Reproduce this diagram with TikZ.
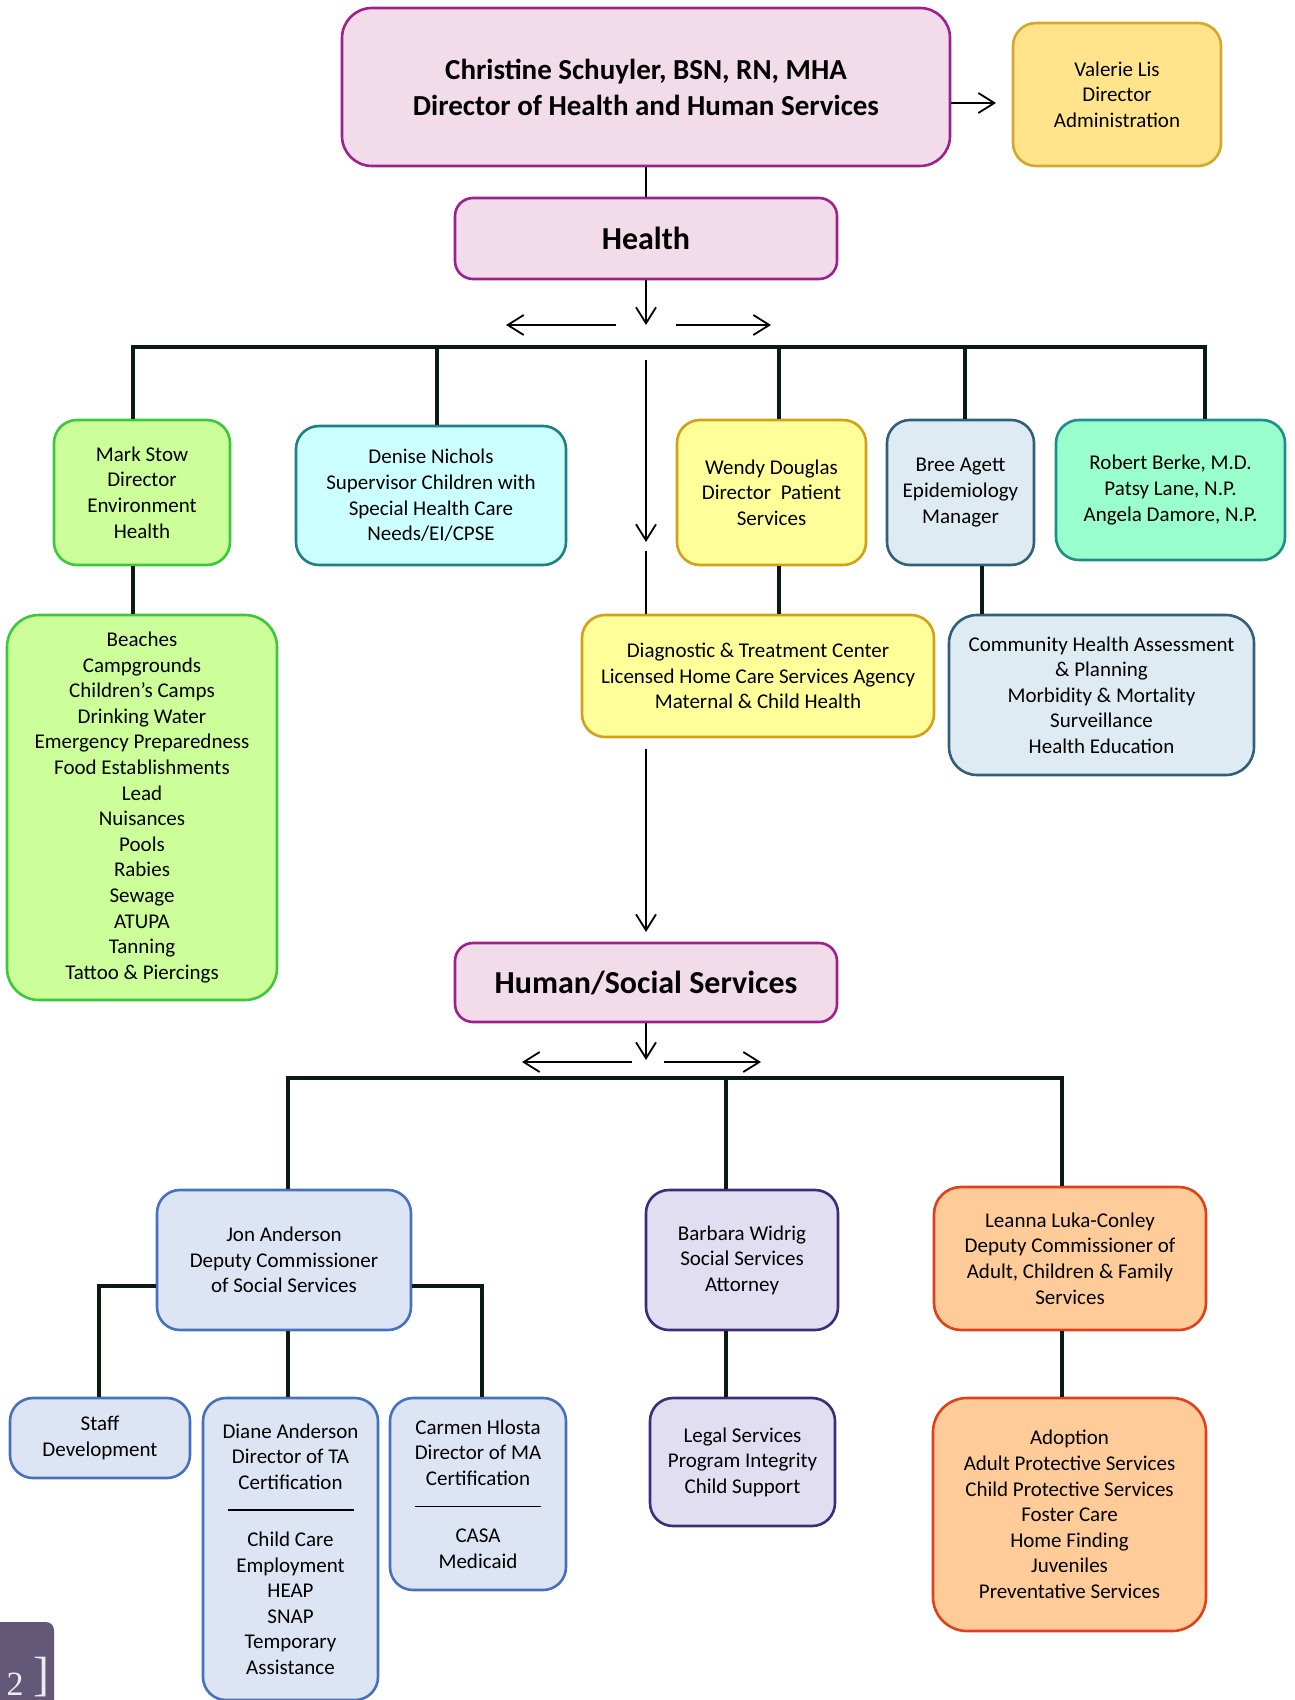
\documentclass[tikz,border=0pt]{standalone}
\usepackage{fontspec}
\setmainfont{Carlito}
\newfontfamily\tabfont{Liberation Serif}
\usetikzlibrary{arrows.meta}

\definecolor{pinkFill}{RGB}{242,220,233}
\definecolor{pinkLine}{RGB}{158,32,142}
\definecolor{goldFill}{RGB}{255,228,140}
\definecolor{goldLine}{RGB}{212,168,42}
\definecolor{limeFill}{RGB}{204,255,153}
\definecolor{limeLine}{RGB}{60,200,60}
\definecolor{aquaFill}{RGB}{204,255,255}
\definecolor{aquaLine}{RGB}{30,128,128}
\definecolor{lemonFill}{RGB}{255,255,153}
\definecolor{lemonLine}{RGB}{212,160,23}
\definecolor{mistFill}{RGB}{222,235,242}
\definecolor{mistLine}{RGB}{49,96,122}
\definecolor{mintFill}{RGB}{153,255,204}
\definecolor{mintLine}{RGB}{26,144,136}
\definecolor{steelFill}{RGB}{221,229,244}
\definecolor{steelLine}{RGB}{70,112,192}
\definecolor{lilacFill}{RGB}{226,222,242}
\definecolor{lilacLine}{RGB}{61,44,122}
\definecolor{peachFill}{RGB}{255,204,153}
\definecolor{peachLine}{RGB}{224,64,26}
\definecolor{tabFill}{RGB}{100,88,120}
\definecolor{linkCol}{RGB}{10,28,18}

\begin{document}
\begin{tikzpicture}[x=0.5pt, y=-0.5pt,
    box/.style={draw, line width=1.3pt, rounded corners=11.5pt, align=center,
      inner sep=0pt, font=\fontsize{10.5}{12.8}\selectfont},
    head/.style={box, rounded corners=9pt, font=\fontsize{16}{19}\selectfont\bfseries},
    hhs/.style={fill=pinkFill, draw=pinkLine},
    admin/.style={fill=goldFill, draw=goldLine},
    lime/.style={fill=limeFill, draw=limeLine},
    aqua/.style={fill=aquaFill, draw=aquaLine},
    lemon/.style={fill=lemonFill, draw=lemonLine},
    mist/.style={fill=mistFill, draw=mistLine},
    mint/.style={fill=mintFill, draw=mintLine},
    steel/.style={fill=steelFill, draw=steelLine},
    lilac/.style={fill=lilacFill, draw=lilacLine},
    peach/.style={fill=peachFill, draw=peachLine},
    link/.style={draw=linkCol, line width=1.8pt},
    plain/.style={line width=0.9pt},
    pointer/.style={plain, -{Straight Barb[length=8pt,width=10pt]}}]
  \def\Xmid{646};
  \def\Ybar{347};
  \def\Ylow{1078};

  \useasboundingbox (0,0) rectangle (1294,1700);
  \clip (0,0) rectangle (1294,1700);

  % top
  \node[box, hhs, rounded corners=15pt, minimum width=304pt, minimum height=79pt,
    font=\fontsize{14.5}{18}\selectfont\bfseries] (chris) at (\Xmid,87)
    {Christine Schuyler, BSN, RN, MHA\\Director of Health and Human Services};
  \node[box, admin, minimum width=104pt, minimum height=71.5pt] (valerie) at (1117,94.5)
    {Valerie Lis\\Director\\Administration};
  \node[head, hhs, minimum width=191pt, minimum height=40.5pt] (health) at (\Xmid,238.5) {Health};

  % health units
  \node[box, lime, minimum width=88pt, minimum height=72.5pt] (mark) at (142,492.5)
    {Mark Stow\\Director\\Environment\\Health};
  \node[box, aqua, minimum width=135pt, minimum height=69.5pt] (denise) at (431,495.5)
    {Denise Nichols\\Supervisor Children with\\Special Health Care\\Needs/EI/CPSE};
  \node[box, lemon, minimum width=94.5pt, minimum height=72.5pt] (wendy) at (771.5,492.5)
    {Wendy Douglas\\Director\ \ Patient\\Services};
  \node[box, mist, minimum width=73.5pt, minimum height=72.5pt] (bree) at (960.5,492.5)
    {Bree Agett\\Epidemiology\\Manager};
  \node[box, mint, minimum width=114.5pt, minimum height=70pt] (robert) at (1170.5,490)
    {Robert Berke, M.D.\\Patsy Lane, N.P.\\Angela Damore, N.P.};
  \node[box, lime, rounded corners=16pt, minimum width=135pt, minimum height=192.5pt] (beaches) at (142,807.5)
    {Beaches\\Campgrounds\\Children’s Camps\\Drinking Water\\Emergency Preparedness\\Food Establishments\\Lead\\Nuisances\\Pools\\Rabies\\Sewage\\ATUPA\\Tanning\\Tattoo \& Piercings};
  \node[box, lemon, minimum width=176pt, minimum height=61pt] (diag) at (758,676)
    {Diagnostic \& Treatment Center\\Licensed Home Care Services Agency\\Maternal \& Child Health};
  \node[box, mist, rounded corners=14pt, minimum width=152.5pt, minimum height=80pt] (community) at (1101.5,695)
    {Community Health Assessment\\\& Planning\\Morbidity \& Mortality\\Surveillance\\Health Education};

  % human services
  \node[head, hhs, minimum width=191pt, minimum height=39.5pt] (human) at (\Xmid,982.5) {Human/Social Services};
  \node[box, steel, minimum width=127pt, minimum height=70pt] (jon) at (284,1260)
    {Jon Anderson\\Deputy Commissioner\\of Social Services};
  \node[box, lilac, minimum width=96pt, minimum height=70pt] (barbara) at (742,1260)
    {Barbara Widrig\\Social Services\\Attorney};
  \node[box, peach, rounded corners=13.5pt, minimum width=136pt, minimum height=71.5pt] (leanna) at (1070,1258.5)
    {Leanna Luka-Conley\\Deputy Commissioner of\\Adult, Children \& Family\\Services};
  \node[box, steel, minimum width=90pt, minimum height=40pt] (staff) at (100,1438)
    {Staff\\Development};
  \node[box, steel, minimum width=87.5pt, minimum height=151pt] (diane) at (290.5,1549)
    {Diane Anderson\\Director of TA\\Certification\\[-2pt]\rule{63pt}{0.7pt}\\[5pt]Child Care\\Employment\\HEAP\\SNAP\\Temporary\\Assistance};
  \node[box, steel, minimum width=88pt, minimum height=96pt] (carmen) at (478,1494)
    {Carmen Hlosta\\Director of MA\\Certification\\[-2pt]\rule{63pt}{0.7pt}\\[5pt]CASA\\Medicaid};
  \node[box, lilac, minimum width=92.5pt, minimum height=64pt] (legal) at (742.5,1462)
    {Legal Services\\Program Integrity\\Child Support};
  \node[box, peach, rounded corners=17pt, minimum width=136.5pt, minimum height=116.5pt] (adoption) at (1069.5,1514.5)
    {Adoption\\Adult Protective Services\\Child Protective Services\\Foster Care\\Home Finding\\Juveniles\\Preventative Services};

  % points
  \coordinate (vtip) at (996,103);
  \coordinate (hdown) at (\Xmid,325);
  \coordinate (hl0) at (616,325);
  \coordinate (hl1) at (506,325);
  \coordinate (hr0) at (676,325);
  \coordinate (hr1) at (771,325);
  \coordinate (tmark) at (133,\Ybar);
  \coordinate (tdenise) at (437,\Ybar);
  \coordinate (twendy) at (779,\Ybar);
  \coordinate (tbree) at (965,\Ybar);
  \coordinate (trobert) at (1205,\Ybar);
  \coordinate (tcomm) at (982,600);
  \coordinate (m1) at (\Xmid,360);
  \coordinate (m2) at (\Xmid,542);
  \coordinate (m3) at (\Xmid,551);
  \coordinate (m4) at (\Xmid,748);
  \coordinate (m5) at (\Xmid,932);
  \coordinate (sdown) at (\Xmid,1060);
  \coordinate (sl0) at (632,1062);
  \coordinate (sl1) at (522,1062);
  \coordinate (sr0) at (664,1062);
  \coordinate (sr1) at (761,1062);
  \coordinate (tjon) at (288,\Ylow);
  \coordinate (tbarbara) at (726,\Ylow);
  \coordinate (tleanna) at (1062,\Ylow);
  \coordinate (jl) at (99,1286);
  \coordinate (jr) at (482,1286);

  % arrows
  \draw[plain] (chris.south) -- (health.north);
  \draw[pointer] (chris.east |- vtip) -- (vtip);
  \draw[pointer] (health.south) -- (hdown);
  \draw[pointer] (hl0) -- (hl1);
  \draw[pointer] (hr0) -- (hr1);
  \draw[pointer] (m1) -- (m2);
  \draw[plain] (m3) -- (m3 |- diag.north);
  \draw[pointer] (diag.south -| m4) ++(0,11) -- (m5);
  \draw[pointer] (human.south) -- (sdown);
  \draw[pointer] (sl0) -- (sl1);
  \draw[pointer] (sr0) -- (sr1);

  % lines
  \draw[link] (tmark |- mark.north) -- (tmark) -- (trobert) -- (trobert |- robert.north);
  \draw[link] (tdenise) -- (tdenise |- denise.north);
  \draw[link] (twendy) -- (twendy |- wendy.north);
  \draw[link] (tbree) -- (tbree |- bree.north);
  \draw[link] (tmark |- mark.south) -- (tmark |- beaches.north);
  \draw[link] (twendy |- wendy.south) -- (twendy |- diag.north);
  \draw[link] (tcomm |- bree.south) -- (tcomm |- community.north);
  \draw[link] (tjon |- jon.north) -- (tjon) -- (tleanna) -- (tleanna |- leanna.north);
  \draw[link] (tbarbara) -- (tbarbara |- barbara.north);
  \draw[link] (jon.west |- jl) -- (jl) -- (jl |- staff.north);
  \draw[link] (jon.east |- jr) -- (jr) -- (jr |- carmen.north);
  \draw[link] (tjon |- jon.south) -- (tjon |- diane.north);
  \draw[link] (tbarbara |- barbara.south) -- (tbarbara |- legal.north);
  \draw[link] (tleanna |- leanna.south) -- (tleanna |- adoption.north);

  % page tab
  \fill[tabFill, rounded corners=4pt] (-20,1622) rectangle (54,1740);
  \node[font=\tabfont\fontsize{17}{17}\selectfont, text=white!88!tabFill, anchor=base, inner sep=0pt] (pgnum) at (15,1695) {2};
  \node[font=\tabfont\fontsize{24}{24}\selectfont, text=white!88!tabFill, anchor=base, inner sep=0pt] (pgbr) at (41,1690) {]};
\end{tikzpicture}
\end{document}
